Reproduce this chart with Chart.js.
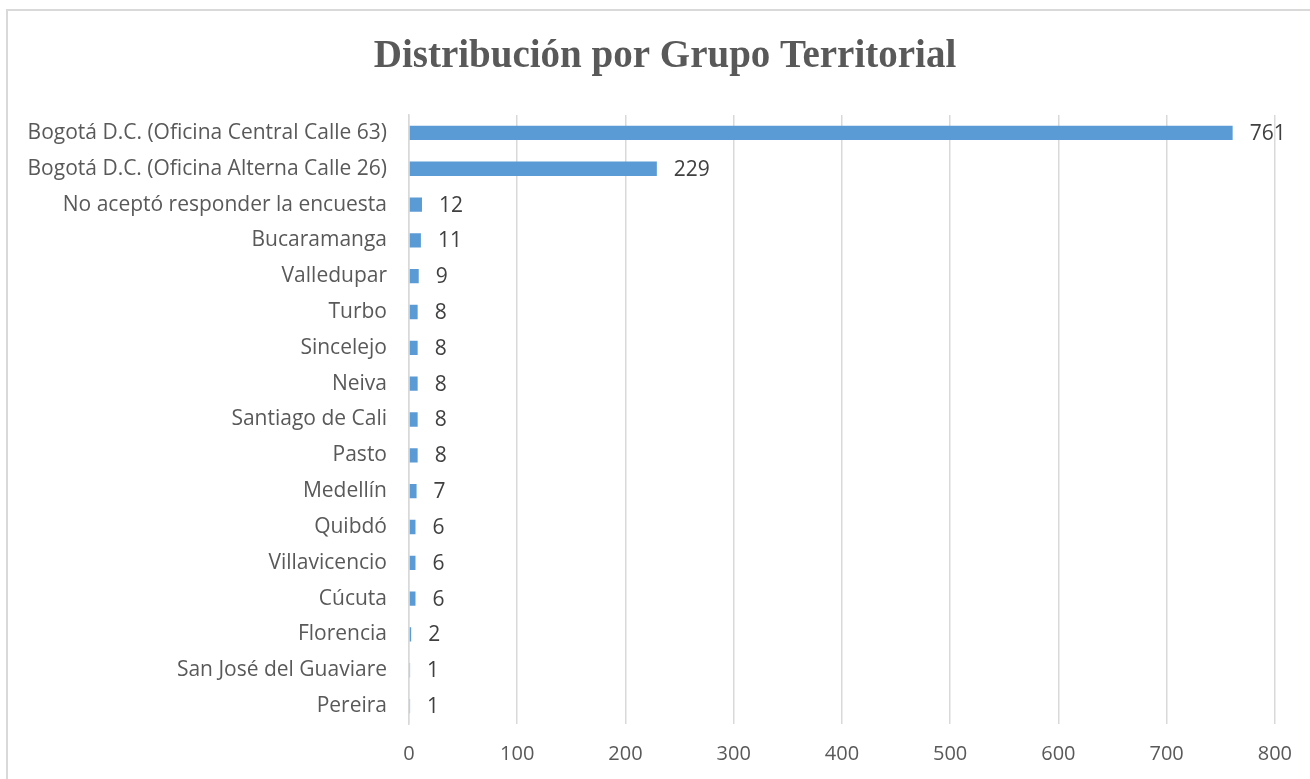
<!DOCTYPE html>
<html>
<head>
<meta charset="utf-8">
<script src="https://cdn.jsdelivr.net/npm/chart.js"></script>
<style>
  html, body { margin: 0; padding: 0; background: #fff; overflow: hidden; }
  #frame { position: absolute; left: 6px; top: 9px; width: 1400px; height: 900px; border: 2px solid #d9d9d9; box-sizing: border-box; }
  #wrap { position: absolute; left: 0; top: 0; width: 1310px; height: 779px; }
</style>
</head>
<body>
<div id="frame"></div>
<div id="wrap"><canvas id="myChart"></canvas></div>
<script>
const categories = [
  'Bogotá D.C. (Oficina Central Calle 63)',
  'Bogotá D.C. (Oficina Alterna Calle 26)',
  'No aceptó responder la encuesta',
  'Bucaramanga',
  'Valledupar',
  'Turbo',
  'Sincelejo',
  'Neiva',
  'Santiago de Cali',
  'Pasto',
  'Medellín',
  'Quibdó',
  'Villavicencio',
  'Cúcuta',
  'Florencia',
  'San José del Guaviare',
  'Pereira'
];
const values = [761, 229, 12, 11, 9, 8, 8, 8, 8, 8, 7, 6, 6, 6, 2, 1, 1];
const xTicks = [0, 100, 200, 300, 400, 500, 600, 700, 800];
const chartTitle = 'Distribución por Grupo Territorial';

const labelFont = "'Open Sans', sans-serif";

// title, centred over the whole frame rather than the layout box
const titleText = {
  id: 'titleText',
  afterDraw(chart) {
    const ctx = chart.ctx;
    ctx.save();
    ctx.font = "bold 39px 'Liberation Serif', serif";
    ctx.fillStyle = '#595959';
    ctx.textAlign = 'center';
    ctx.textBaseline = 'middle';
    ctx.fillText(chartTitle, 665, 57);
    ctx.restore();
  }
};

// value labels at the end of each bar
const barValues = {
  id: 'barValues',
  afterDatasetsDraw(chart) {
    const ctx = chart.ctx;
    const meta = chart.getDatasetMeta(0);
    ctx.save();
    ctx.font = '21px ' + labelFont;
    ctx.fillStyle = '#404040';
    ctx.textAlign = 'left';
    ctx.textBaseline = 'middle';
    meta.data.forEach((bar, i) => {
      ctx.fillText(values[i], bar.x + 17, bar.y + 1);
    });
    ctx.restore();
  }
};

const ctx = document.getElementById('myChart');

new Chart(ctx, {
  type: 'bar',
  data: {
    labels: categories,
    datasets: [{
      label: 'Distribución',
      data: values,
      backgroundColor: '#5b9bd5',
      borderWidth: 0,
      categoryPercentage: 1,
      barPercentage: 0.4
    }]
  },
  options: {
    indexAxis: 'y',
    responsive: true,
    maintainAspectRatio: false,
    animation: false,
    layout: { padding: { left: 0, right: 35, top: 115, bottom: 0 } },
    plugins: {
      legend: { display: false },
      tooltip: { enabled: false },
      title: { display: false }
    },
    scales: {
      x: {
        min: 0,
        max: 800,
        afterBuildTicks(axis) {
          axis.ticks = xTicks.map(v => ({ value: v }));
        },
        afterFit(axis) { axis.height = 55; },
        border: { display: false },
        grid: { color: '#d9d9d9', lineWidth: 1.5, drawTicks: false },
        ticks: {
          color: '#595959',
          padding: 18,
          font: { family: labelFont, size: 20 }
        }
      },
      y: {
        afterFit(axis) { axis.width = 409; },
        border: { display: true, color: '#d9d9d9', width: 1.5, z: -1 },
        grid: { display: false, drawTicks: false },
        ticks: {
          color: '#595959',
          padding: 22,
          autoSkip: false,
          font: { family: labelFont, size: 21 }
        }
      }
    }
  },
  plugins: [barValues, titleText]
});
</script>
</body>
</html>
